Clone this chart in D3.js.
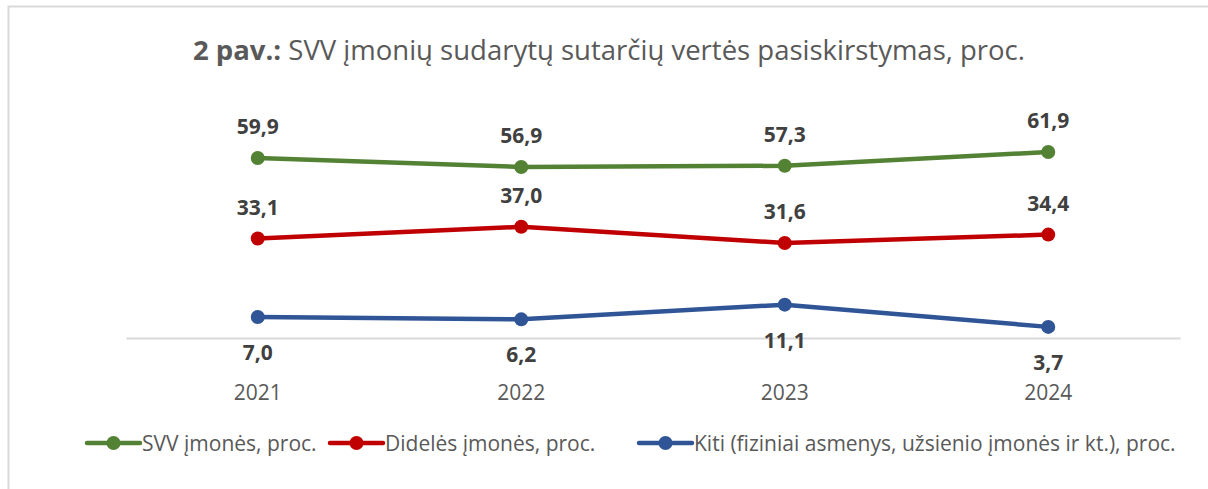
<!doctype html>
<html>
<head>
<meta charset="utf-8">
<script src="https://d3js.org/d3.v7.min.js"></script>
<style>
  body { margin: 0; background: #fff; }
  text { font-family: "Open Sans", "Noto Sans", sans-serif; }
</style>
</head>
<body>
<svg id="chart" width="1208" height="489"></svg>
<script>
  // data
  var years = ["2021", "2022", "2023", "2024"];
  var svv = [59.9, 56.9, 57.3, 61.9];
  var didele = [33.1, 37.0, 31.6, 34.4];
  var kiti = [7.0, 6.2, 11.1, 3.7];
  var seriesNames = ["SVV įmonės, proc.", "Didelės įmonės, proc.", "Kiti (fiziniai asmenys, užsienio įmonės ir kt.), proc."];
  var colors = ["#548235", "#c00000", "#2f5597"];

  var svg = d3.select("#chart");

  // chart frame
  svg.append("rect")
    .attr("x", 8.5).attr("y", 6.5)
    .attr("width", 1230).attr("height", 500)
    .attr("fill", "none")
    .attr("stroke", "#d9d9d9")
    .attr("stroke-width", 2);

  // title
  var title = svg.append("text")
    .attr("x", 609).attr("y", 60)
    .attr("text-anchor", "middle")
    .attr("fill", "#595959")
    .style("font-size", "27.5px");
  title.append("tspan").attr("font-weight", "bold").text("2 pav.:");
  title.append("tspan").text(" SVV įmonių sudarytų sutarčių vertės pasiskirstymas, proc.");

  var xScale = d3.scaleBand().domain(years).range([126, 1180]);
  var yScale = d3.scaleLinear().domain([0, 70]).range([338, 127.6]);

  // category axis
  var xAxis = d3.axisBottom(xScale).tickSize(0).tickPadding(47);
  var xg = svg.append("g").attr("transform", "translate(0," + yScale(0) + ")").call(xAxis);
  xg.select(".domain").attr("stroke", "#d9d9d9").attr("stroke-width", 2);
  xg.selectAll("text")
    .attr("fill", "#595959")
    .style("font-size", "21px")
    .style("font-family", "'Open Sans', 'Noto Sans', sans-serif");

  var all = [svv, didele, kiti];
  var line = d3.line()
    .x(function(d, i) { return xScale(years[i]) + xScale.bandwidth() / 2; })
    .y(function(d) { return yScale(d); });

  all.forEach(function(vals, s) {
    svg.append("path")
      .attr("d", line(vals))
      .attr("fill", "none")
      .attr("stroke", colors[s])
      .attr("stroke-width", 4.5)
      .attr("stroke-linejoin", "round");

    svg.selectAll("circle.s" + s)
      .data(vals)
      .enter()
      .append("circle")
      .attr("class", "s" + s)
      .attr("r", 7)
      .attr("cx", function(d, i) { return xScale(years[i]) + xScale.bandwidth() / 2; })
      .attr("cy", function(d) { return yScale(d); })
      .attr("fill", colors[s]);

    svg.selectAll("text.l" + s)
      .data(vals)
      .enter()
      .append("text")
      .attr("class", "l" + s)
      .attr("x", function(d, i) { return xScale(years[i]) + xScale.bandwidth() / 2; })
      .attr("y", function(d) { return s == 2 ? yScale(d) + 43 : yScale(d) - 24; })
      .attr("text-anchor", "middle")
      .attr("fill", "#404040")
      .attr("font-weight", "bold")
      .style("font-size", "21px")
      .text(function(d) { return d.toFixed(1).replace(".", ","); });
  });

  // legend
  var legendX = [87, 330, 639];
  seriesNames.forEach(function(name, s) {
    var g = svg.append("g").attr("transform", "translate(" + legendX[s] + ",443)");
    g.append("line").attr("x1", 0).attr("x2", 53).attr("y1", 0).attr("y2", 0)
      .attr("stroke", colors[s]).attr("stroke-width", 4.5).attr("stroke-linecap", "round");
    g.append("circle").attr("cx", 26.5).attr("cy", 0).attr("r", 7).attr("fill", colors[s]);
    g.append("text").attr("x", 55).attr("y", 7.5)
      .attr("fill", "#595959")
      .style("font-size", "21px")
      .text(name);
  });
</script>
</body>
</html>
